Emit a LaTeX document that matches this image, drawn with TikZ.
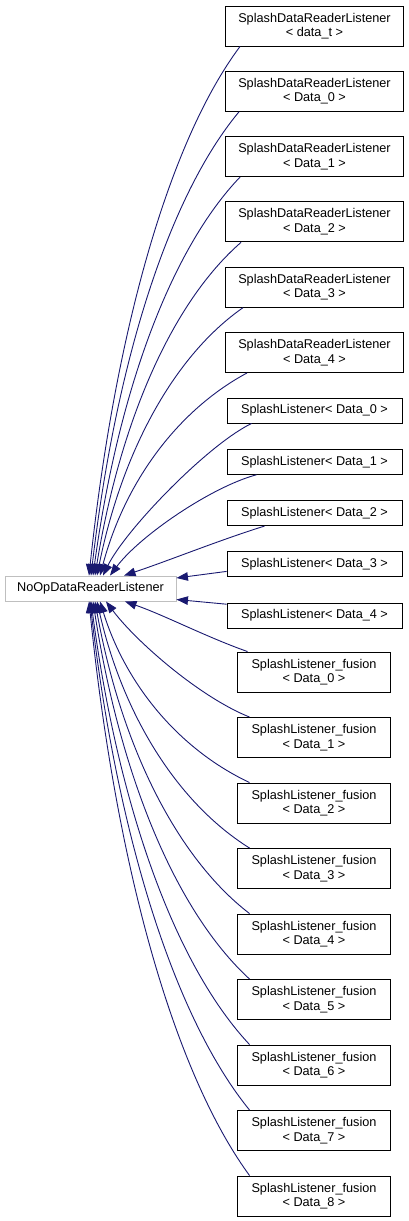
\documentclass[tikz,border=0pt]{standalone}
\usepackage{fontspec}
\setmainfont{Liberation Sans}
\usetikzlibrary{arrows.meta}
\definecolor{edgeblue}{HTML}{191970}
\definecolor{rootgray}{HTML}{BFBFBF}
\begin{document}
\begin{tikzpicture}[x=1pt,y=-1pt,
  lbl/.style={inner sep=0pt,align=center,font=\fontsize{12.7}{14.5}\selectfont},
  box/.style={lbl,draw=black,line width=0.9pt,fill=white},
  sdrl/.style={box,minimum width=178pt,minimum height=40pt},
  sl/.style={box,minimum width=175pt,minimum height=25pt},
  fus/.style={box,minimum width=153pt,minimum height=40pt},
  rootbox/.style={lbl,draw=rootgray,line width=0.9pt,fill=white,minimum width=171pt,minimum height=25pt},
  edge/.style={draw=edgeblue,line width=0.9pt,-{Triangle[length=11.5pt,width=8.5pt]}}]
\useasboundingbox (0,0) rectangle (409,1221);

\node[rootbox] (root) at (90.5,588.5) {NoOpDataReaderListener};

\node[sdrl] (a0) at (314.5,26)    {SplashDataReaderListener\\< data\_t >};
\node[sdrl] (a1) at (314.5,91.3)  {SplashDataReaderListener\\< Data\_0 >};
\node[sdrl] (a2) at (314.5,156.6) {SplashDataReaderListener\\< Data\_1 >};
\node[sdrl] (a3) at (314.5,221.9) {SplashDataReaderListener\\< Data\_2 >};
\node[sdrl] (a4) at (314.5,287.2) {SplashDataReaderListener\\< Data\_3 >};
\node[sdrl] (a5) at (314.5,352.5) {SplashDataReaderListener\\< Data\_4 >};

\node[sl] (s0) at (314.5,410.5) {SplashListener< Data\_0 >};
\node[sl] (s1) at (314.5,461.8) {SplashListener< Data\_1 >};
\node[sl] (s2) at (314.5,513.1) {SplashListener< Data\_2 >};
\node[sl] (s3) at (314.5,564.4) {SplashListener< Data\_3 >};
\node[sl] (s4) at (314.5,615.7) {SplashListener< Data\_4 >};

\node[fus] (f0) at (314,672)    {SplashListener\_fusion\\< Data\_0 >};
\node[fus] (f1) at (314,737.5)  {SplashListener\_fusion\\< Data\_1 >};
\node[fus] (f2) at (314,803)    {SplashListener\_fusion\\< Data\_2 >};
\node[fus] (f3) at (314,868.5)  {SplashListener\_fusion\\< Data\_3 >};
\node[fus] (f4) at (314,934)    {SplashListener\_fusion\\< Data\_4 >};
\node[fus] (f5) at (314,999.5)  {SplashListener\_fusion\\< Data\_5 >};
\node[fus] (f6) at (314,1065)   {SplashListener\_fusion\\< Data\_6 >};
\node[fus] (f7) at (314,1130.5) {SplashListener\_fusion\\< Data\_7 >};
\node[fus] (f8) at (314,1196)   {SplashListener\_fusion\\< Data\_8 >};

% upper edges
\draw[edge] ([xshift=15pt]a0.south west) .. controls +(-71,95) and +(26,-244) .. ([xshift=-1.5pt]root.north);
\draw[edge] ([xshift=14pt]a1.south west) .. controls +(-70,84) and +(25,-214) .. ([xshift=0.5pt]root.north);
\draw[edge] ([xshift=15pt]a2.south west) .. controls +(-69,72) and +(25,-184) .. ([xshift=2.5pt]root.north);
\draw[edge] ([xshift=16pt]a3.south west) .. controls +(-69,60) and +(25,-154) .. ([xshift=4.5pt]root.north);
\draw[edge] ([xshift=18pt]a4.south west) .. controls +(-69,48) and +(25,-124) .. ([xshift=6.5pt]root.north);
\draw[edge] ([xshift=22pt]a5.south west) .. controls +(-69,37) and +(25,-94) .. ([xshift=9.5pt]root.north);
\draw[edge] ([xshift=25pt]s0.south west) .. controls +(-45,22) and +(22,-45) .. ([xshift=12.5pt]root.north);
\draw[edge] ([xshift=30pt]s1.south west) .. controls +(-45,12) and +(30,-40) .. ([xshift=19.5pt]root.north);
\draw[edge] ([xshift=38pt]s2.south west) .. controls +(-45,14) and +(45,-15) .. ([xshift=33.5pt]root.north);
\draw[edge] ([yshift=-7pt]s3.west) -- ([yshift=10.5pt]root.east);
\draw[edge] ([yshift=11.5pt]s4.west) -- ([yshift=-11pt]root.east);

% lower edges
\draw[edge] ([xshift=10.5pt]f0.north west) .. controls +(-40,-14) and +(40,14) .. ([xshift=34.5pt]root.south);
\draw[edge] ([xshift=12.5pt]f1.north west) .. controls +(-50,-20) and +(30,40) .. ([xshift=15.5pt]root.south);
\draw[edge] ([xshift=12.5pt]f2.north west) .. controls +(-70,-33) and +(26,84) .. ([xshift=9.5pt]root.south);
\draw[edge] ([xshift=12.5pt]f3.north west) .. controls +(-72,-45) and +(26,114) .. ([xshift=6.5pt]root.south);
\draw[edge] ([xshift=12.5pt]f4.north west) .. controls +(-73,-56) and +(26,144) .. ([xshift=4.5pt]root.south);
\draw[edge] ([xshift=12.5pt]f5.north west) .. controls +(-74,-68) and +(27,174) .. ([xshift=2.5pt]root.south);
\draw[edge] ([xshift=12.5pt]f6.north west) .. controls +(-75,-80) and +(27,204) .. ([xshift=0.5pt]root.south);
\draw[edge] ([xshift=12.5pt]f7.north west) .. controls +(-75,-92) and +(27,234) .. ([xshift=-0.5pt]root.south);
\draw[edge] ([xshift=12.5pt]f8.north west) .. controls +(-76,-104) and +(27,265) .. ([xshift=-1.5pt]root.south);
\end{tikzpicture}
\end{document}
